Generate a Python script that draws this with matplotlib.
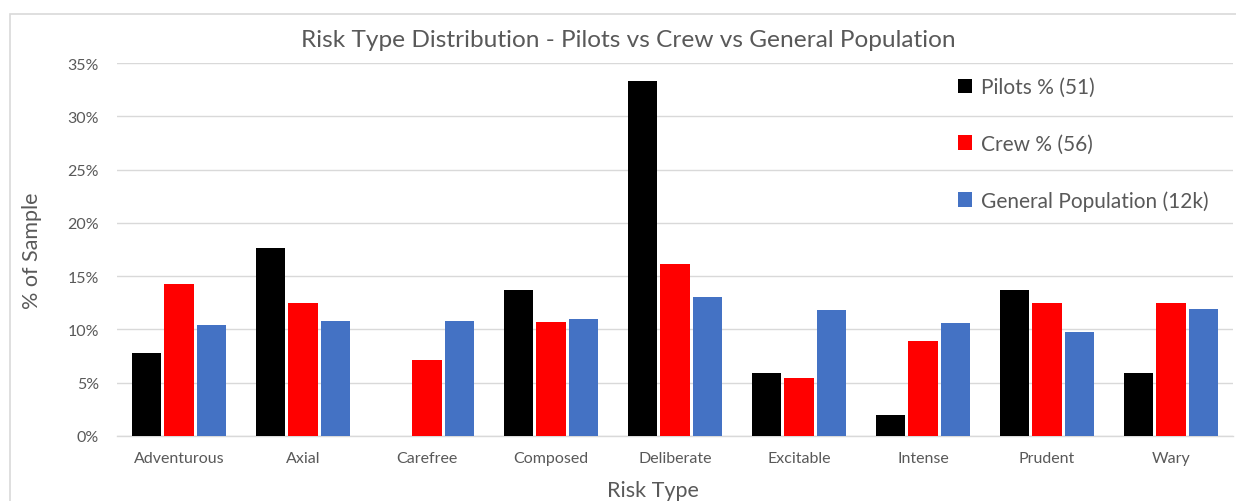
import numpy as np
import matplotlib
matplotlib.use("Agg")
from matplotlib import pyplot as plt
from matplotlib.patches import Rectangle
from matplotlib.ticker import PercentFormatter

plt.rcParams['font.family'] = ['Lato', 'DejaVu Sans']

risk_types = ["Adventurous", "Axial", "Carefree", "Composed", "Deliberate",
              "Excitable", "Intense", "Prudent", "Wary"]
pilots = [7.8, 17.6, 0.0, 13.7, 33.3, 5.9, 2.0, 13.7, 5.9]
crew = [14.3, 12.5, 7.1, 10.7, 16.1, 5.4, 8.9, 12.5, 12.5]
general = [10.4, 10.8, 10.8, 11.0, 13.0, 11.8, 10.6, 9.8, 11.9]
series_labels = ["Pilots % (51)", "Crew % (56)", "General Population (12k)"]
colors = ["#000000", "#FF0000", "#4472C4"]

grey_text = "#595959"
grid_col = "#D9D9D9"

fig = plt.figure(figsize=(12.36, 5.02), dpi=100)
ax = fig.add_axes([0.0947, 0.1295, 0.9029, 0.743])

# outer chart frame (cut off on right and bottom like the screenshot)
fig.patches.append(Rectangle((10 / 1236, -0.1), 1.2, 1 - 15 / 502 + 0.1,
                             transform=fig.transFigure, fill=False,
                             edgecolor=grid_col, linewidth=1.2))

x = np.arange(len(risk_types))
w = 0.236
step = 0.26
for i, (vals, lab, c) in enumerate(zip([pilots, crew, general], series_labels, colors)):
    ax.bar(x + (i - 1) * step, vals, width=w, color=c, label=lab, zorder=3)

ax.set_xlim(-0.5, len(risk_types) - 0.5)
ax.set_ylim(0, 35)
ax.set_yticks(np.arange(0, 36, 5))
ax.yaxis.set_major_formatter(PercentFormatter(decimals=0))
ax.set_xticks(x)
ax.set_xticklabels(risk_types)
ax.grid(axis="y", color=grid_col, linewidth=1, zorder=0)

for s in ["top", "right", "left"]:
    ax.spines[s].set_visible(False)
ax.spines["bottom"].set_color(grid_col)
ax.spines["bottom"].set_linewidth(1)
ax.tick_params(axis="both", length=0, colors=grey_text, labelsize=11.5)
ax.tick_params(axis="x", pad=11)
ax.tick_params(axis="y", pad=13)

ax.set_ylabel("% of Sample", fontsize=15.5, color=grey_text)
ax.yaxis.set_label_coords(-0.067, 0.5)
ax.set_xlabel("Risk Type", fontsize=15.5, color=grey_text)
ax.xaxis.set_label_coords(0.48, -0.118)

fig.text(0.508, 0.92, "Risk Type Distribution - Pilots vs Crew vs General Population",
         ha="center", va="center", fontsize=17.6, color=grey_text)

leg = ax.legend(loc="upper left", bbox_to_anchor=(0.744, 0.99), frameon=False,
                fontsize=15, labelspacing=1.75, handlelength=0.7,
                handleheight=0.7, handletextpad=0.4, borderpad=0)
for t in leg.get_texts():
    t.set_color(grey_text)

fig.savefig("out.png", dpi=100)
